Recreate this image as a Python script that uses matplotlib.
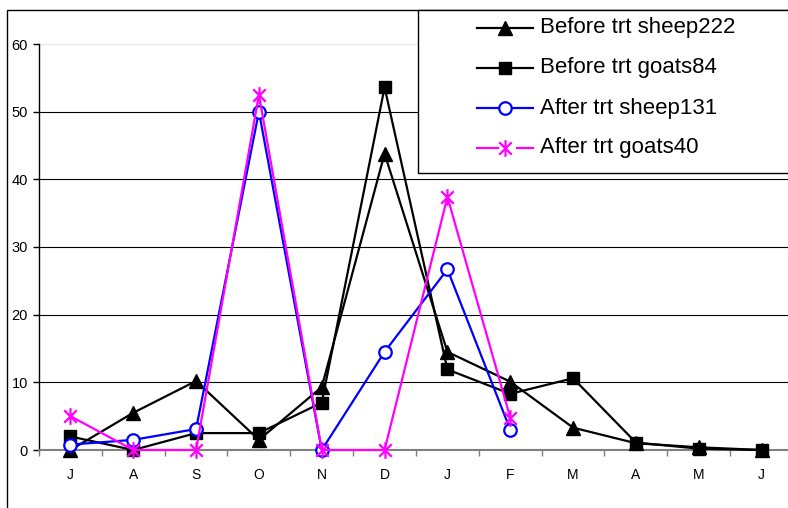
import numpy as np
import matplotlib
matplotlib.use("Agg")
import matplotlib.pyplot as plt
from matplotlib.patches import Rectangle
from matplotlib.lines import Line2D
from matplotlib.path import Path

plt.rcParams['font.family'] = ['Liberation Sans', 'DejaVu Sans']

months = ["J", "A", "S", "O", "N", "D", "J", "F", "M", "A", "M", "J"]
before_sheep = [0, 5.5, 10.2, 1.5, 9.3, 43.8, 14.5, 10.1, 3.3, 1.0, 0.4, 0]
before_goats = [2.0, 0, 2.5, 2.5, 7.0, 53.6, 11.9, 8.3, 10.6, 1.1, 0.2, 0]
after_sheep = [0.8, 1.5, 3.1, 50.0, 0, 14.5, 26.7, 3.0]
after_goats = [5.0, 0, 0, 52.5, 0, 0, 37.4, 4.8]
labels = ["Before trt sheep222", "Before trt goats84",
          "After trt sheep131", "After trt goats40"]

W, H = 788, 508


def fx(x):
    return x / W


def fy(y):
    return 1 - y / H


# asterisk marker: vertical bar plus an X
star = Path([(0, -1), (0, 1), (-0.75, -0.75), (0.75, 0.75), (-0.75, 0.75), (0.75, -0.75)],
            [Path.MOVETO, Path.LINETO, Path.MOVETO, Path.LINETO, Path.MOVETO, Path.LINETO])

fig = plt.figure(figsize=(W / 100, H / 100), dpi=100)
ax = fig.add_axes([fx(39), fy(450), fx(793 - 39), (450 - 44) / H])

x = np.arange(len(months))
xa = np.arange(len(after_sheep))

styles = [
    dict(color="black", marker="^", ms=10, mfc="black", mec="black"),
    dict(color="black", marker="s", ms=9, mfc="black", mec="black"),
    dict(color="#0000FF", marker="o", ms=9, mfc="white", mec="#0000FF", mew=1.6),
    dict(color="#FF00FF", marker=star, ms=12, mfc="none", mec="#FF00FF", mew=1.6),
]

ax.plot(x, before_sheep, lw=1.6, zorder=3, clip_on=False, **styles[0])
ax.plot(x, before_goats, lw=1.6, zorder=4, clip_on=False, **styles[1])
ax.plot(xa, after_sheep, lw=1.6, zorder=5, clip_on=False, **styles[2])
ax.plot(xa, after_goats, lw=1.6, zorder=6, clip_on=False, **styles[3])

ax.set_xlim(-0.5, 11.5)
ax.set_ylim(0, 60)
ax.set_yticks(np.arange(0, 61, 10))
ax.set_xticks(x)
ax.set_xticklabels(months)
ax.set_xticks(np.arange(-0.5, 12, 1), minor=True)
ax.tick_params(axis="x", which="major", length=0, pad=13, labelsize=10)
ax.tick_params(axis="x", which="minor", length=4, width=1, color="#808080", direction="out")
ax.tick_params(axis="y", length=4, width=1, color="black", pad=4, labelsize=10.5)

for v in range(10, 60, 10):
    ax.axhline(v, color="black", lw=0.8, zorder=1)
ax.axhline(60, color="#e6e6e6", lw=0.8, zorder=1)

for s in ["top", "right"]:
    ax.spines[s].set_visible(False)
ax.spines["left"].set_color("black")
ax.spines["left"].set_linewidth(1)
ax.spines["bottom"].set_color("#808080")
ax.spines["bottom"].set_linewidth(1.5)

# chart frame
fig.add_artist(Rectangle((fx(7), fy(520)), fx(800 - 7), (520 - 10) / H,
                         transform=fig.transFigure, fill=False, ec="black", lw=1, zorder=10))

# legend box
fig.add_artist(Rectangle((fx(418), fy(173)), fx(800 - 418), (173 - 10) / H,
                         transform=fig.transFigure, fc="white", ec="black", lw=1, zorder=20))

rows = [28, 68, 108, 148]
for i, (lab, st) in enumerate(zip(labels, styles)):
    yy = fy(rows[i])
    if i == 3:
        segs = [([fx(477), fx(498)], [yy, yy]), ([fx(517), fx(533)], [yy, yy])]
    else:
        segs = [([fx(477), fx(533)], [yy, yy])]
    for sx, sy in segs:
        fig.add_artist(Line2D(sx, sy, transform=fig.transFigure, color=st["color"],
                              lw=1.6, zorder=21))
    mk = dict(st)
    mk.pop("color")
    fig.add_artist(Line2D([fx(505)], [yy], transform=fig.transFigure, ls="none",
                          zorder=22, **mk))
    fig.text(fx(540), yy, lab, fontsize=16, va="center", ha="left", zorder=23)

fig.savefig("out.png", dpi=100)
